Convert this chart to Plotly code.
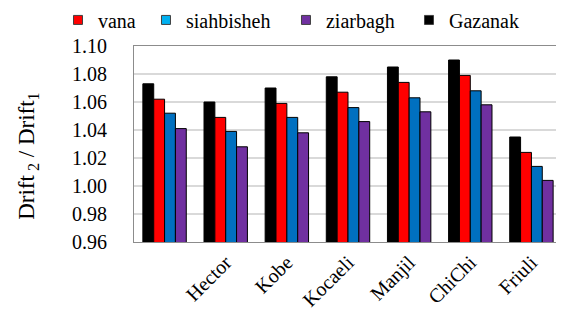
import plotly.graph_objects as go

categories = [" ", "Hector", "Kobe", "Kocaeli", "Manjil", "ChiChi", "Friuli"]
gazanak = [1.073, 1.060, 1.070, 1.078, 1.085, 1.090, 1.035]
vana = [1.062, 1.049, 1.059, 1.067, 1.074, 1.079, 1.024]
siahbisheh = [1.052, 1.039, 1.049, 1.056, 1.063, 1.068, 1.014]
ziarbagh = [1.041, 1.028, 1.038, 1.046, 1.053, 1.058, 1.004]
y_ticks = [0.96, 0.98, 1.00, 1.02, 1.04, 1.06, 1.08, 1.10]

# (name, values, bar colour, legend swatch colour, legend id, legend x in paper units)
series = [
    ("Gazanak", gazanak, "#000000", "#000000", "legend4", 0.6425),
    ("vana", vana, "#FF0000", "#FF0000", "legend", -0.1776),
    ("siahbisheh", siahbisheh, "#0070C0", "#00B0F0", "legend2", 0.028),
    ("ziarbagh", ziarbagh, "#7030A0", "#7030A0", "legend3", 0.3551),
]

FONT = "Liberation Serif, Times New Roman, serif"
fig = go.Figure()
legends = {}
for name, vals, col, swatch, leg, lx in series:
    fig.add_trace(go.Bar(
        x=categories, y=vals, name=name, showlegend=False,
        marker=dict(color=col, line=dict(color="#000000", width=1)),
    ))
for name, vals, col, swatch, leg, lx in series:
    # legend-only swatch (small square, as in the reference legend)
    fig.add_trace(go.Scatter(
        x=[None], y=[None], mode="markers", name=name, legend=leg, showlegend=True,
        marker=dict(symbol="square", size=9, color=swatch,
                    line=dict(color="#404040", width=1)),
    ))
    legends[leg] = dict(orientation="h", x=lx, xanchor="left", y=1.133, yanchor="middle",
                        font=dict(family=FONT, size=20), bgcolor="rgba(0,0,0,0)")

# page body has an 8px default margin, so the figure is sized to fit the window
fig.update_layout(
    width=556, height=305,
    margin=dict(l=126, r=2, t=38, b=71, autoexpand=False),
    paper_bgcolor="white", plot_bgcolor="white",
    barmode="group", bargap=0.29, bargroupgap=0,
    font=dict(family=FONT, color="#000000"),
    showlegend=True,
    xaxis=dict(type="category", tickangle=-45, tickfont=dict(family=FONT, size=20),
               showline=True, mirror=True, linecolor="#8c8c8c", linewidth=1,
               showgrid=False, ticks="", automargin=False),
    yaxis=dict(range=[0.96, 1.10], tickvals=y_ticks, tickformat=".2f",
               tickfont=dict(family=FONT, size=20), ticklabelstandoff=22,
               showgrid=True, gridcolor="#d9d9d9", gridwidth=1.5,
               showline=True, mirror=True, linecolor="#8c8c8c", linewidth=1,
               zeroline=False, ticks="", automargin=False),
    annotations=[dict(
        text="Drift<sub> 2</sub> / Drift<sub>1</sub>", textangle=-90,
        xref="paper", yref="paper", x=-0.248, y=0.439,
        xanchor="center", yanchor="middle", showarrow=False,
        font=dict(family=FONT, size=23),
    )],
    **legends,
)

fig.write_html("out.html")
